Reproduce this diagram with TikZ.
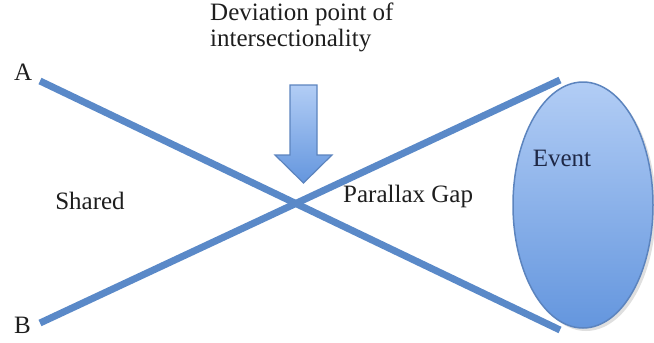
\documentclass[tikz,border=0pt]{standalone}
\usepackage{fontspec}
\setmainfont{Liberation Serif}
\usetikzlibrary{shapes.geometric}
\definecolor{lineblue}{RGB}{90,137,200}
\definecolor{edgeblue}{RGB}{92,132,190}
\definecolor{lighttop}{RGB}{178,205,245}
\definecolor{darkbot}{RGB}{100,150,222}
\definecolor{txt}{RGB}{30,30,30}
\definecolor{evtxt}{RGB}{30,40,70}
\tikzset{
  bar/.style={draw=lineblue, line width=7pt},
  lbl/.style={font=\fontsize{25}{28}\selectfont, text=txt, inner sep=0pt},
  event/.style={ellipse, draw=edgeblue, line width=1.5pt, top color=lighttop, bottom color=darkbot,
     minimum width=140pt, minimum height=246pt, inner sep=0pt},
  downarrow/.style={draw=edgeblue, line width=1.2pt, top color=lighttop, bottom color=darkbot}
}
\begin{document}
\begin{tikzpicture}[x=1pt,y=-1pt]
\useasboundingbox (0,0) rectangle (654,343);
% bars
\coordinate (a1) at (40,81);
\coordinate (a2) at (560,330);
\coordinate (b1) at (40,323);
\coordinate (b2) at (560,80);
\draw[bar] (a1) -- (a2);
\draw[bar] (b1) -- (b2);
% event ellipse
\fill[gray!25] (586,208) ellipse [x radius=70, y radius=123];
\node[event] (ev) at (583,205) {};
\node[lbl, text=evtxt, anchor=base] (evt) at (562,166) {Event};
% labels
\node[lbl, anchor=base west] (A) at (14,80) {A};
\node[lbl, anchor=base west] (B) at (14,333) {B};
\node[lbl, anchor=base] (sh) at (90,209) {Shared};
\node[lbl, anchor=base west] (pg) at (343,202) {Parallax Gap};
\node[lbl, anchor=north west, align=left, font=\fontsize{25}{26}\selectfont] (dev) at (210,3)
  {Deviation point of\\intersectionality};
% arrow
\shade[downarrow] (290,85) -- (317,85) -- (317,155) -- (332,155) -- (303.5,183)
  -- (275,155) -- (290,155) -- cycle;
\end{tikzpicture}
\end{document}
